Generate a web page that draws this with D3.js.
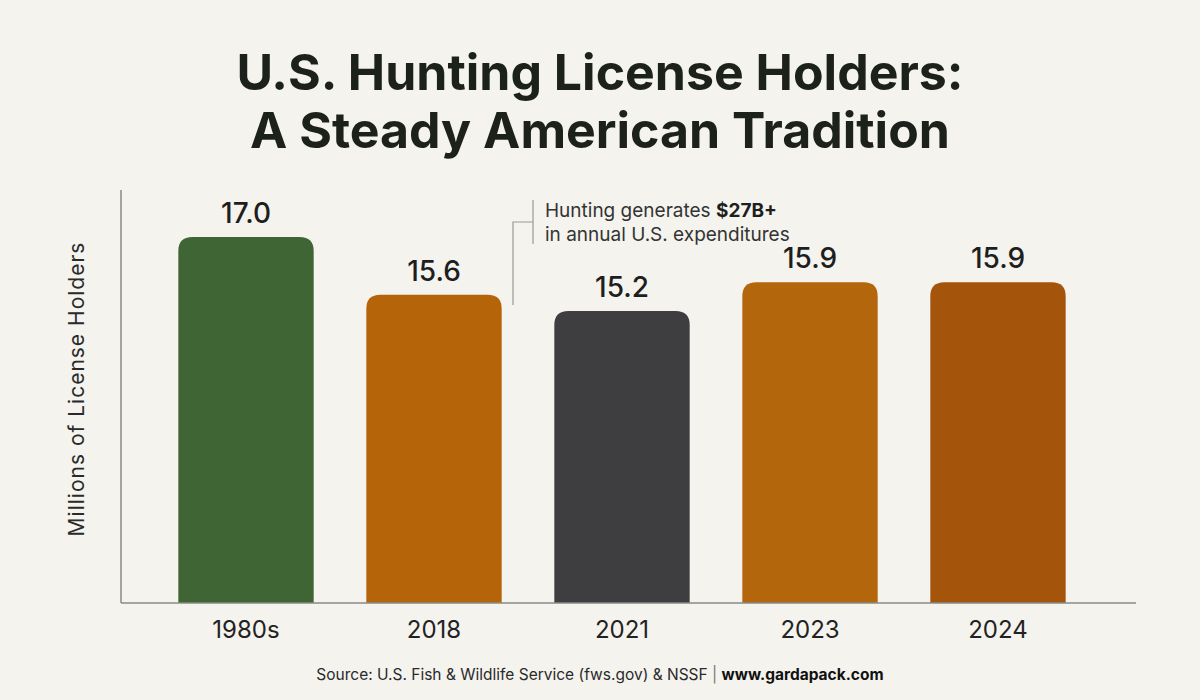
<!DOCTYPE html>
<html>
<head>
<meta charset="utf-8">
<script src="https://cdn.jsdelivr.net/npm/d3@7"></script>
<style>
  body { margin: 0; background: #f4f3ee; }
  text { font-family: Inter, "Noto Sans", sans-serif; }
</style>
</head>
<body>
<div id="container"></div>
<script>
let w = 1200;
let h = 700;

// data
let categories = ["1980s", "2018", "2021", "2023", "2024"];
let values = [17.0, 15.6, 15.2, 15.9, 15.9];
let barColors = ["#3f6535", "#b5640a", "#3e3e40", "#b3660c", "#a5540b"];
let titleLines = ["U.S. Hunting License Holders:", "A Steady American Tradition"];

let viz = d3.select("#container")
  .append("svg")
    .attr("width", w)
    .attr("height", h)
    .style("background-color", "#f4f3ee");

// title
viz.selectAll(".title").data(titleLines).enter()
  .append("text")
    .attr("class", "title")
    .attr("x", 600)
    .attr("y", (d, i) => 90 + i * 58)
    .attr("text-anchor", "middle")
    .attr("font-size", 50)
    .attr("font-weight", 700)
    .attr("fill", "#1c211c")
    .text(d => d);

// scales
let baseY = 603;
let xScale = d3.scaleBand().domain(categories).range([152, 1092])
  .paddingInner(0.28).paddingOuter(0.14);
let yScale = d3.scaleLinear().domain([8.1, 18]).range([baseY, 196]);

// bars with rounded top corners
function barPath(d, i) {
  let x0 = xScale(categories[i]);
  let x1 = x0 + xScale.bandwidth();
  let y0 = yScale(d);
  let r = 14;
  return "M" + x0 + "," + baseY +
    "L" + x0 + "," + (y0 + r) +
    "Q" + x0 + "," + y0 + " " + (x0 + r) + "," + y0 +
    "L" + (x1 - r) + "," + y0 +
    "Q" + x1 + "," + y0 + " " + x1 + "," + (y0 + r) +
    "L" + x1 + "," + baseY + "Z";
}

viz.selectAll(".bar").data(values).enter()
  .append("path")
    .attr("class", "bar")
    .attr("d", barPath)
    .attr("fill", (d, i) => barColors[i]);

// value labels
viz.selectAll(".val").data(values).enter()
  .append("text")
    .attr("class", "val")
    .attr("x", (d, i) => xScale(categories[i]) + xScale.bandwidth() / 2)
    .attr("y", d => yScale(d) - 14)
    .attr("text-anchor", "middle")
    .attr("font-size", 28)
    .attr("font-weight", 500)
    .attr("fill", "#1e1e1e")
    .text(d => d.toFixed(1));

// axes
let xAxis = d3.axisBottom(xScale).tickSize(0).tickPadding(18);
let xAxisGroup = viz.append("g")
  .attr("transform", "translate(0," + baseY + ")")
  .call(xAxis);
xAxisGroup.select(".domain").remove();
xAxisGroup.selectAll("text")
  .attr("font-size", 24)
  .attr("fill", "#222")
  .attr("dy", "0.71em")
  .style("font-family", "Inter, 'Noto Sans', sans-serif");

viz.append("line")
  .attr("x1", 121).attr("x2", 1136)
  .attr("y1", baseY).attr("y2", baseY)
  .attr("stroke", "#8a8a88").attr("stroke-width", 1.5);
viz.append("line")
  .attr("x1", 121).attr("x2", 121)
  .attr("y1", 190).attr("y2", baseY)
  .attr("stroke", "#8a8a88").attr("stroke-width", 1.5);

// y label
viz.append("text")
  .attr("transform", "translate(84,389) rotate(-90)")
  .attr("text-anchor", "middle")
  .attr("font-size", 21)
  .attr("letter-spacing", 1)
  .attr("fill", "#2a2a2a")
  .text("Millions of License Holders");

// annotation bracket
let ann = viz.append("g").attr("stroke", "#9a9a96").attr("stroke-width", 1.2).attr("fill", "none");
ann.append("path").attr("d", "M533,200 L533,244 M533,222 L513,222 L513,305");

let annText = viz.append("text")
  .attr("x", 545).attr("y", 217)
  .attr("font-size", 19)
  .attr("fill", "#333");
annText.append("tspan").text("Hunting generates ");
annText.append("tspan").attr("font-weight", 700).attr("fill", "#1e1e1e").text("$27B+");
viz.append("text")
  .attr("x", 545).attr("y", 241)
  .attr("font-size", 19)
  .attr("fill", "#333")
  .text("in annual U.S. expenditures");

// source
let src = viz.append("text")
  .attr("x", 600).attr("y", 680)
  .attr("text-anchor", "middle")
  .attr("font-size", 15.5)
  .attr("fill", "#2a2a2a");
src.append("tspan").text("Source: U.S. Fish & Wildlife Service (fws.gov) & NSSF ");
src.append("tspan").attr("fill", "#777").text("| ");
src.append("tspan").attr("font-weight", 700).attr("fill", "#111").text("www.gardapack.com");
</script>
</body>
</html>
